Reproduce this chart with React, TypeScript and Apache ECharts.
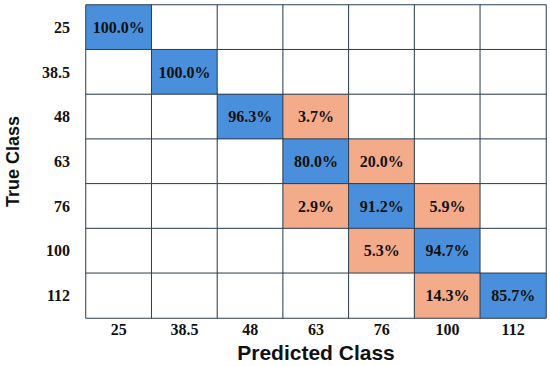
import React, { useEffect, useRef } from "react";
import * as echarts from "echarts";

const classes = ["25", "38.5", "48", "63", "76", "100", "112"];
// rows: true class, columns: predicted class (percent)
const row25 = [100.0, 0, 0, 0, 0, 0, 0];
const row38 = [0, 100.0, 0, 0, 0, 0, 0];
const row48 = [0, 0, 96.3, 3.7, 0, 0, 0];
const row63 = [0, 0, 0, 80.0, 20.0, 0, 0];
const row76 = [0, 0, 0, 2.9, 91.2, 5.9, 0];
const row100 = [0, 0, 0, 0, 5.3, 94.7, 0];
const row112 = [0, 0, 0, 0, 0, 14.3, 85.7];
const matrix = [row25, row38, row48, row63, row76, row100, row112];

const BLUE = "#4a8fdc";
const ORANGE = "#f4ab8a";

export default function App() {
  const ref = useRef<HTMLDivElement>(null);
  useEffect(() => {
    document.body.style.margin = "0";
    const chart = echarts.init(ref.current!, null, { renderer: "svg" });
    const data: any[] = [];
    matrix.forEach((row, r) => {
      row.forEach((v, c) => {
        const kind = v === 0 ? 0 : r === c ? 1 : 2;
        data.push([c, r, v, kind]);
      });
    });
    chart.setOption({
      animation: false,
      backgroundColor: "#ffffff",
      grid: { left: 86, top: 5, width: 460, height: 313, outerBoundsMode: "none", containLabel: false },
      visualMap: {
        type: "piecewise",
        show: false,
        dimension: 3,
        pieces: [
          { value: 0, color: "#ffffff" },
          { value: 1, color: BLUE },
          { value: 2, color: ORANGE },
        ],
      },
      xAxis: {
        type: "category",
        data: classes,
        axisLine: { show: false },
        axisTick: { show: false },
        splitLine: { show: false },
        axisLabel: {
          fontFamily: "Liberation Serif",
          fontWeight: "bold",
          fontSize: 16,
          color: "#111",
          margin: 3,
        },
        name: "Predicted Class",
        nameLocation: "middle",
        nameGap: 22,
        nameTextStyle: {
          fontFamily: "Liberation Sans",
          fontWeight: "bold",
          fontSize: 21,
          color: "#111",
        },
      },
      yAxis: {
        type: "category",
        data: classes,
        inverse: true,
        axisLine: { show: false },
        axisTick: { show: false },
        splitLine: { show: false },
        axisLabel: {
          fontFamily: "Liberation Serif",
          fontWeight: "bold",
          fontSize: 16,
          color: "#111",
          margin: 16,
        },
        name: "True Class",
        nameLocation: "middle",
        nameGap: 64,
        nameTextStyle: {
          fontFamily: "Liberation Sans",
          fontWeight: "bold",
          fontSize: 18,
          color: "#111",
        },
      },
      series: [
        {
          type: "heatmap",
          data,
          itemStyle: { borderColor: "#2c3e50", borderWidth: 1 },
          label: {
            show: true,
            fontFamily: "Liberation Serif",
            fontWeight: "bold",
            fontSize: 16,
            color: "#111",
            formatter: (p: any) => (p.value[2] > 0 ? p.value[2].toFixed(1) + "%" : ""),
          },
          emphasis: { disabled: true },
        },
      ],
    });
    return () => chart.dispose();
  }, []);
  return <div ref={ref} style={{ width: 550, height: 366 }} />;
}
